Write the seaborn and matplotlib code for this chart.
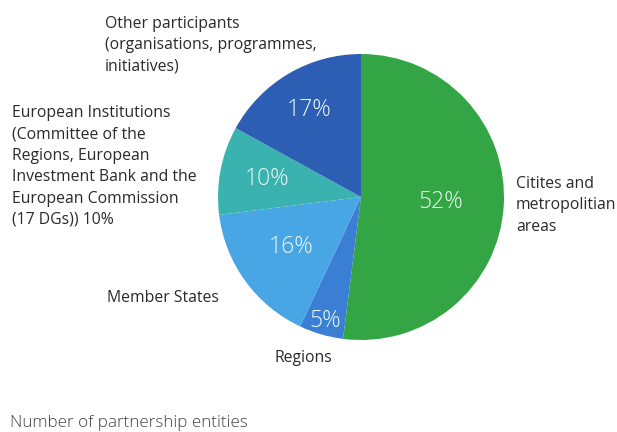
import numpy as np
import matplotlib
matplotlib.use("Agg")
import matplotlib.pyplot as plt
import seaborn as sns

sns.set_theme(style="white")
plt.rcParams['font.family'] = ['Open Sans', 'DejaVu Sans']

categories = ["Citites and\nmetropolitian\nareas", "Regions", "Member States",
              "European Institutions\n(Committee of the\nRegions, European\nInvestment Bank and the\nEuropean Commission\n(17 DGs)) 10%",
              "Other participants\n(organisations, programmes,\ninitiatives)"]
values = [52, 5, 16, 10, 17]
pct_labels = ["52%", "5%", "16%", "10%", "17%"]
colors = ["#33a544", "#3a7fd4", "#48a6e4", "#3ab3b0", "#2c5fb4"]
pct_dist = [0.56, 0.9, 0.6, 0.67, 0.71]

W, H = 617, 432
fig = plt.figure(figsize=(W / 100, H / 100), dpi=100)
fig.patch.set_facecolor("white")

cx, cy, r = 361, 197, 143
ax = fig.add_axes([(cx - r) / W, 1 - (cy + r) / H, 2 * r / W, 2 * r / H])
wedges, _ = ax.pie(values, colors=colors, startangle=90, counterclock=False,
                   wedgeprops=dict(linewidth=0))
ax.set_xlim(-1, 1)
ax.set_ylim(-1, 1)
ax.set_aspect("equal")
ax.axis("off")

for w, lab, d in zip(wedges, pct_labels, pct_dist):
    ang = np.deg2rad((w.theta1 + w.theta2) / 2)
    ax.text(d * np.cos(ang), d * np.sin(ang), lab, ha="center", va="center",
            color="#eaf6f2", fontsize=16.5, fontweight="light")

# outside labels (pixel positions, left aligned)
label_pos = [(516, 176), (275, 350), (107, 290), (12, 105), (105, 16)]
for lab, (x, y) in zip(categories, label_pos):
    fig.text(x / W, 1 - y / H, lab, ha="left", va="top", fontsize=11.3,
             color="#2a2a2a", linespacing=1.45)

fig.text(10 / W, 1 - 423 / H, "Number of partnership entities", ha="left",
         va="center", fontsize=12.3, color="#444444", fontweight="light")

fig.savefig("out.png", dpi=100, facecolor="white")
